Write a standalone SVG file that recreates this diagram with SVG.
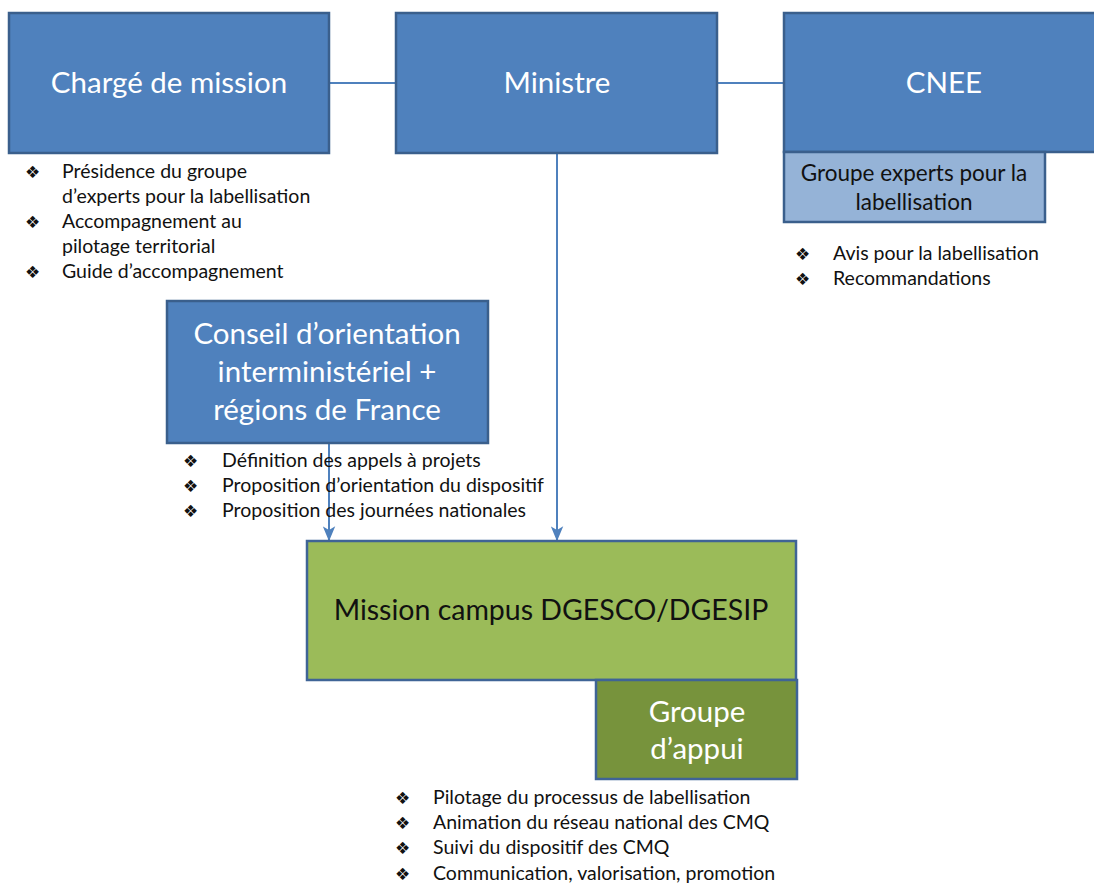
<svg xmlns="http://www.w3.org/2000/svg" width="1094" height="884" viewBox="0 0 1094 884">
<defs>
<style>
.blue{fill:#4F81BD;stroke:#3A5F8C;stroke-width:2.5}
.lblue{fill:#95B3D7;stroke:#3A5F8C;stroke-width:2.5}
.green{fill:#9BBB59;stroke:#3F6496;stroke-width:2.5}
.dgreen{fill:#77933C;stroke:#3F6496;stroke-width:2.5}
.big{font-family:Lato,"Liberation Sans",sans-serif;font-size:29.5px;text-anchor:middle}
.w{fill:#FFFFFF}
.k{fill:#111111}
.mid{font-family:Lato,"Liberation Sans",sans-serif;font-size:22.5px;text-anchor:middle;fill:#111}
.li{font-family:Lato,"Liberation Sans",sans-serif;font-size:19.5px;fill:#111}
.bul{font-family:"DejaVu Sans",sans-serif;font-size:17px;fill:#111}
.conn{stroke:#4F81BD;stroke-width:2;fill:none}
</style>
<marker id="arr" viewBox="0 0 12 10" refX="11" refY="5" markerWidth="15" markerHeight="13" orient="auto" markerUnits="userSpaceOnUse">
<path d="M0,0 L12,5 L0,10 L3,5 z" fill="#4F81BD"/>
</marker>
</defs>
<rect width="1094" height="884" fill="#FFFFFF"/>
<g id="connectors">
<line class="conn" x1="329" y1="83" x2="396" y2="83"/>
<line class="conn" x1="717" y1="83" x2="784" y2="83"/>
<line class="conn" x1="557" y1="153" x2="557" y2="540" marker-end="url(#arr)"/>
<line class="conn" x1="329" y1="443" x2="329" y2="540" marker-end="url(#arr)"/>
</g>
<g id="charge">
<rect class="blue" x="9" y="13" width="320" height="140"/>
<text class="big w" x="169" y="93">Chargé de mission</text>
</g>
<g id="charge-list">
<text class="bul" x="25" y="178">❖</text>
<text class="li" x="62" y="178">Présidence du groupe</text>
<text class="li" x="62" y="203">d’experts pour la labellisation</text>
<text class="bul" x="25" y="228">❖</text>
<text class="li" x="62" y="228">Accompagnement au</text>
<text class="li" x="62" y="253">pilotage territorial</text>
<text class="bul" x="25" y="278">❖</text>
<text class="li" x="62" y="278">Guide d’accompagnement</text>
</g>
<g id="ministre">
<rect class="blue" x="396" y="13" width="321" height="140"/>
<text class="big w" x="557" y="93">Ministre</text>
</g>
<g id="cnee">
<rect class="blue" x="784" y="13" width="320" height="139"/>
<text class="big w" x="944" y="93">CNEE</text>
</g>
<g id="groupe-experts">
<rect class="lblue" x="784" y="152" width="261" height="70"/>
<text class="mid" x="914" y="181">Groupe experts pour la</text>
<text class="mid" x="914" y="210">labellisation</text>
</g>
<g id="cnee-list">
<text class="bul" x="795" y="260">❖</text>
<text class="li" x="833" y="260">Avis pour la labellisation</text>
<text class="bul" x="795" y="285">❖</text>
<text class="li" x="833" y="285">Recommandations</text>
</g>
<g id="conseil">
<rect class="blue" x="167" y="301" width="321" height="142"/>
<text class="big w" x="327" y="344">Conseil d’orientation</text>
<text class="big w" x="327" y="382">interministériel +</text>
<text class="big w" x="327" y="420">régions de France</text>
</g>
<g id="conseil-list">
<text class="bul" x="183" y="467">❖</text>
<text class="li" x="222" y="467">Définition des appels à projets</text>
<text class="bul" x="183" y="492">❖</text>
<text class="li" x="222" y="492">Proposition d’orientation du dispositif</text>
<text class="bul" x="183" y="517">❖</text>
<text class="li" x="222" y="517">Proposition des journées nationales</text>
</g>
<g id="mission">
<rect class="green" x="307" y="541" width="489" height="139"/>
<text class="big k" x="551" y="620" style="font-size:28.5px">Mission campus DGESCO/DGESIP</text>
</g>
<g id="appui">
<rect class="dgreen" x="596" y="680" width="201" height="99"/>
<text class="big w" x="697" y="722">Groupe</text>
<text class="big w" x="697" y="759">d’appui</text>
</g>
<g id="mission-list">
<text class="bul" x="395" y="804">❖</text>
<text class="li" x="433" y="804">Pilotage du processus de labellisation</text>
<text class="bul" x="395" y="829">❖</text>
<text class="li" x="433" y="829">Animation du réseau national des CMQ</text>
<text class="bul" x="395" y="854">❖</text>
<text class="li" x="433" y="854">Suivi du dispositif des CMQ</text>
<text class="bul" x="395" y="880">❖</text>
<text class="li" x="433" y="880">Communication, valorisation, promotion</text>
</g>
</svg>
